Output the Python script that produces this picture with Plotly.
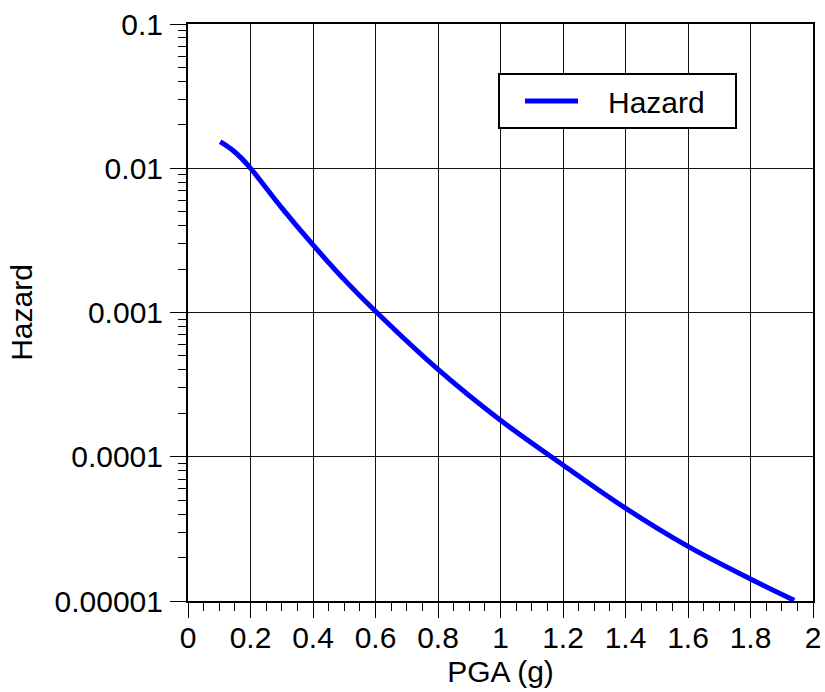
import plotly.graph_objects as go

# Data
pga = [0.103, 0.14, 0.17, 0.20, 0.30, 0.40, 0.50, 0.60, 0.80, 1.00, 1.20, 1.40, 1.60, 1.80, 1.94]
hazard = [0.0153, 0.0135, 0.0118, 0.0100, 0.00531, 0.00294, 0.00169, 0.00102,
          0.000403, 0.000179, 0.0000877, 0.0000440, 0.0000239, 0.0000142, 0.0000101]

x_ticks = [0, 0.2, 0.4, 0.6, 0.8, 1, 1.2, 1.4, 1.6, 1.8, 2]
x_tick_labels = ["0", "0.2", "0.4", "0.6", "0.8", "1", "1.2", "1.4", "1.6", "1.8", "2"]
y_ticks = [0.00001, 0.0001, 0.001, 0.01, 0.1]
y_tick_labels = ["0.00001", "0.0001", "0.001", "0.01", "0.1"]

FONT = "Liberation Sans, Arial, Helvetica, sans-serif"
FS = 30
NB = "\u00a0"

fig = go.Figure()
fig.add_trace(go.Scatter(
    x=pga, y=hazard, mode="lines", name=NB * 3 + "Hazard" + NB * 3,
    line=dict(color="#0000ff", width=5, shape="spline", smoothing=1.0),
))

fig.update_layout(
    width=825, height=692,
    margin=dict(l=188, r=12, t=24, b=91, autoexpand=False),
    paper_bgcolor="white", plot_bgcolor="white",
    font=dict(family=FONT, size=FS, color="black"),
    showlegend=True,
    legend=dict(
        x=0.496, y=0.915, xanchor="left", yanchor="top",
        bgcolor="white", bordercolor="black", borderwidth=2,
        font=dict(size=FS, family=FONT, color="black"),
        itemwidth=53, indentation=20,
    ),
    xaxis=dict(
        range=[0, 2], tickmode="array", tickvals=x_ticks, ticktext=x_tick_labels,
        showline=True, linecolor="black", linewidth=2, mirror=True,
        ticks="outside", ticklen=15, tickwidth=1, tickcolor="black",
        showgrid=True, gridcolor="#111111", gridwidth=1, zeroline=False,
        minor=dict(dtick=0.05, ticks="outside", ticklen=8, tickcolor="black", tickwidth=1, showgrid=False),
        title=dict(text="PGA (g)", font=dict(size=FS, family=FONT), standoff=8),
        ticklabelstandoff=-6,
    ),
    yaxis=dict(
        type="log", range=[-5, -1], tickmode="array", tickvals=y_ticks, ticktext=y_tick_labels,
        showline=True, linecolor="black", linewidth=2, mirror=True,
        ticks="outside", ticklen=16, tickwidth=1, tickcolor="black",
        showgrid=True, gridcolor="#111111", gridwidth=1, zeroline=False,
        minor=dict(dtick="D1", ticks="outside", ticklen=8, tickcolor="black", tickwidth=1, showgrid=False),
        title=dict(text="Hazard", font=dict(size=FS, family=FONT), standoff=13),
        ticklabelstandoff=1,
    ),
)

fig.write_html("out.html", config={"displayModeBar": False},
               post_script="document.body.style.margin='0';")
